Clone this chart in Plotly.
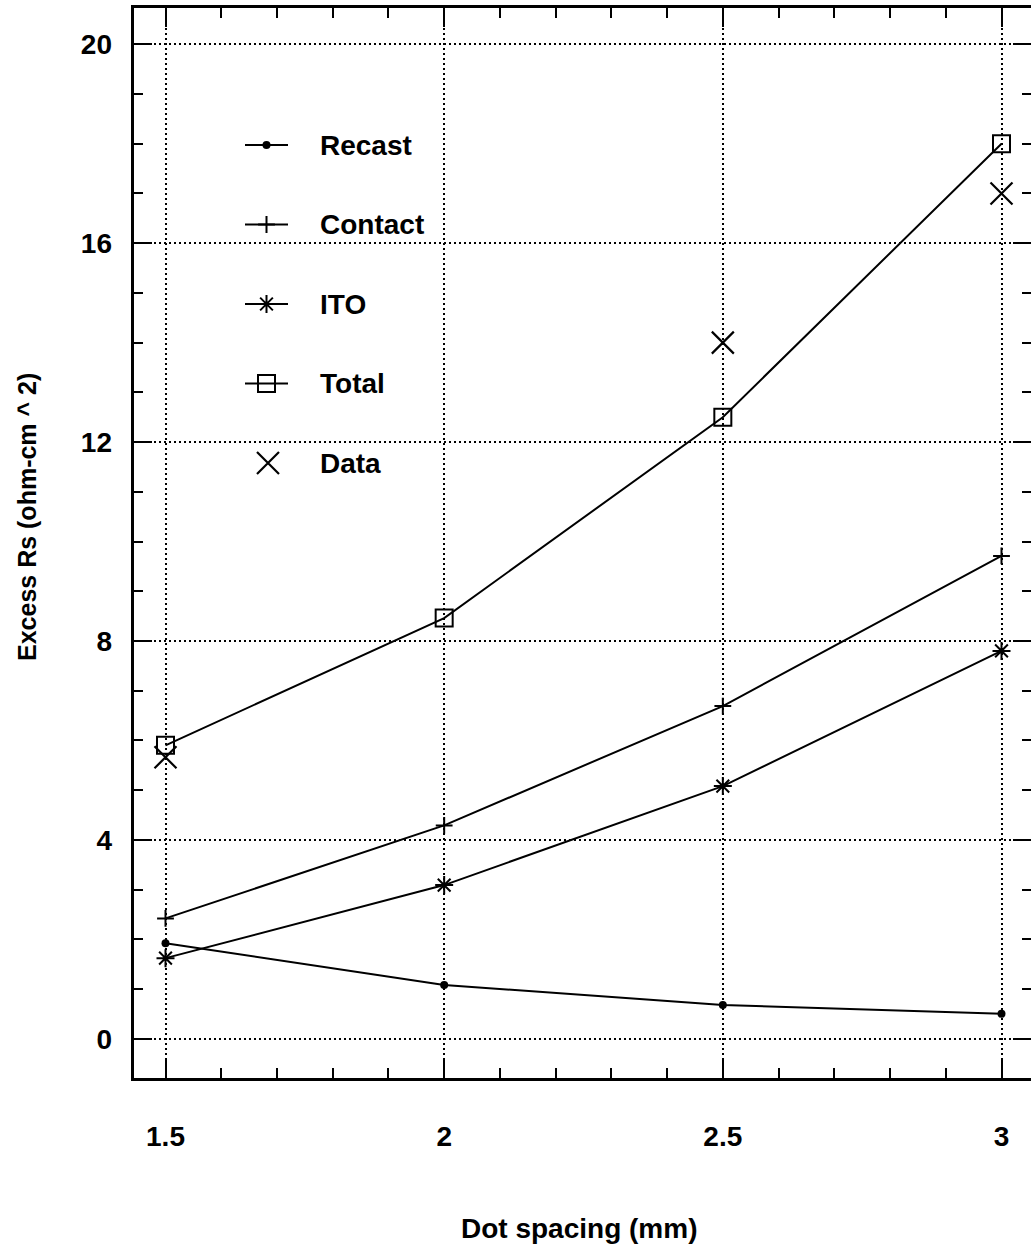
import plotly.graph_objects as go

# Dot spacing (mm)
spacing = [1.5, 2.0, 2.5, 3.0]

# Excess series resistance components (ohm-cm^2)
recast = [1.92, 1.08, 0.68, 0.50]
contact = [2.42, 4.29, 6.69, 9.71]
ito = [1.62, 3.09, 5.08, 7.80]
total = [5.90, 8.46, 12.50, 18.00]

# Measured values
data_x = [1.5, 2.5, 3.0]
data_y = [5.66, 14.0, 17.0]

series_names = ["Recast", "Contact", "ITO", "Total", "Data"]

W, H = 1031, 1247
L, T, B = 134, 8, 169
FONT = "Liberation Sans, Arial, sans-serif"
INK = "#000000"

styles = {
    "Recast": dict(symbol="circle", size=8, line=dict(width=0)),
    "Contact": dict(symbol="cross-thin", size=12, line=dict(width=2, color=INK)),
    "ITO": dict(symbol="asterisk", size=15, line=dict(width=2, color=INK)),
    "Total": dict(symbol="square-open", size=17, line=dict(width=2, color=INK)),
    "Data": dict(symbol="x-thin", size=22, line=dict(width=2.2, color=INK)),
}

fig = go.Figure()

for name, ys in zip(series_names[:4], [recast, contact, ito, total]):
    fig.add_trace(go.Scatter(
        x=spacing, y=ys, mode="lines+markers", name=name,
        line=dict(color=INK, width=2),
        marker=dict(color=INK, **styles[name]),
        showlegend=False,
    ))

fig.add_trace(go.Scatter(
    x=data_x, y=data_y, mode="markers", name="Data",
    marker=dict(color=INK, **styles["Data"]),
    showlegend=False,
))

# Key drawn on a pixel-unit overlay inside the plot area
key_x0, key_x1, key_text_x = 245, 288, 318
key_top, key_step = 145, 79.5
annotations = []
for i, name in enumerate(series_names):
    yk = key_top + key_step * i
    xm = (key_x0 + key_x1) / 2
    if name != "Data":
        fig.add_trace(go.Scatter(
            x=[key_x0, key_x1], y=[yk, yk], mode="lines",
            line=dict(color=INK, width=2), xaxis="x2", yaxis="y2",
            showlegend=False, hoverinfo="skip",
        ))
    else:
        xm = 268
    fig.add_trace(go.Scatter(
        x=[xm], y=[yk], mode="markers",
        marker=dict(color=INK, **styles[name]), xaxis="x2", yaxis="y2",
        showlegend=False, hoverinfo="skip",
    ))
    annotations.append(dict(
        x=key_text_x, y=yk, xref="x2", yref="y2", text=name,
        showarrow=False, xanchor="left", yanchor="middle",
        font=dict(family=FONT, size=28, color=INK, weight="bold"),
    ))

pw = W - L
ph = H - T - B
annotations.append(dict(
    x=(579 - L) / pw, y=(H - B - 1228) / ph, xref="paper", yref="paper",
    text="Dot spacing (mm)", showarrow=False, xanchor="center", yanchor="middle",
    font=dict(family=FONT, size=28, color=INK, weight="bold"),
))
annotations.append(dict(
    x=(27 - L) / pw, y=(H - B - 517) / ph, xref="paper", yref="paper",
    text="Excess Rs (ohm-cm ^ 2)", showarrow=False, textangle=-90,
    xanchor="center", yanchor="middle",
    font=dict(family=FONT, size=25, color=INK, weight="bold"),
))

px_per_x = (1001.5 - 165.5) / 1.5
px_per_y = (1038.7 - 44.3) / 20
x_lo = 1.5 - (165.5 - L) / px_per_x
x_hi = 3.0 + (W - 1001.5) / px_per_x
y_hi = 20 + (44.3 - T) / px_per_y
y_lo = -((H - B) - 1038.7) / px_per_y

# Left frame edge (the right edge runs off the page)
shapes = [dict(type="line", xref="paper", yref="paper",
               x0=-1.5 / pw, x1=-1.5 / pw, y0=-3 / ph, y1=1 + 3 / ph,
               line=dict(color=INK, width=3))]

fig.update_layout(
    width=W, height=H,
    margin=dict(l=L, r=0, t=T, b=B, pad=0),
    paper_bgcolor="white", plot_bgcolor="white",
    font=dict(family=FONT, color=INK),
    annotations=annotations,
    shapes=shapes,
    xaxis=dict(
        range=[x_lo, x_hi], tick0=1.5, dtick=0.5,
        showline=True, linewidth=3, linecolor=INK, mirror="ticks",
        ticks="inside", ticklen=19, tickwidth=2, tickcolor=INK,
        minor=dict(dtick=0.1, tick0=1.5, ticks="inside", ticklen=10,
                   tickwidth=2, tickcolor=INK, showgrid=False),
        showgrid=True, gridcolor=INK, gridwidth=2, griddash="2px,3px",
        zeroline=False,
        tickfont=dict(family=FONT, size=28, color=INK, weight="bold"),
        ticklabelstandoff=31,
    ),
    yaxis=dict(
        range=[y_lo, y_hi], tick0=0, dtick=4,
        showline=False, mirror="ticks",
        ticks="inside", ticklen=18, tickwidth=2, tickcolor=INK,
        minor=dict(dtick=1, tick0=0, ticks="inside", ticklen=9,
                   tickwidth=2, tickcolor=INK, showgrid=False),
        showgrid=True, gridcolor=INK, gridwidth=2, griddash="2px,3px",
        zeroline=False,
        tickfont=dict(family=FONT, size=28, color=INK, weight="bold"),
        ticklabelstandoff=21,
    ),
    xaxis2=dict(range=[L, W], overlaying="x", visible=False, fixedrange=True),
    yaxis2=dict(range=[H - B, T], overlaying="y", visible=False, fixedrange=True),
)

fig.write_html("out.html")
